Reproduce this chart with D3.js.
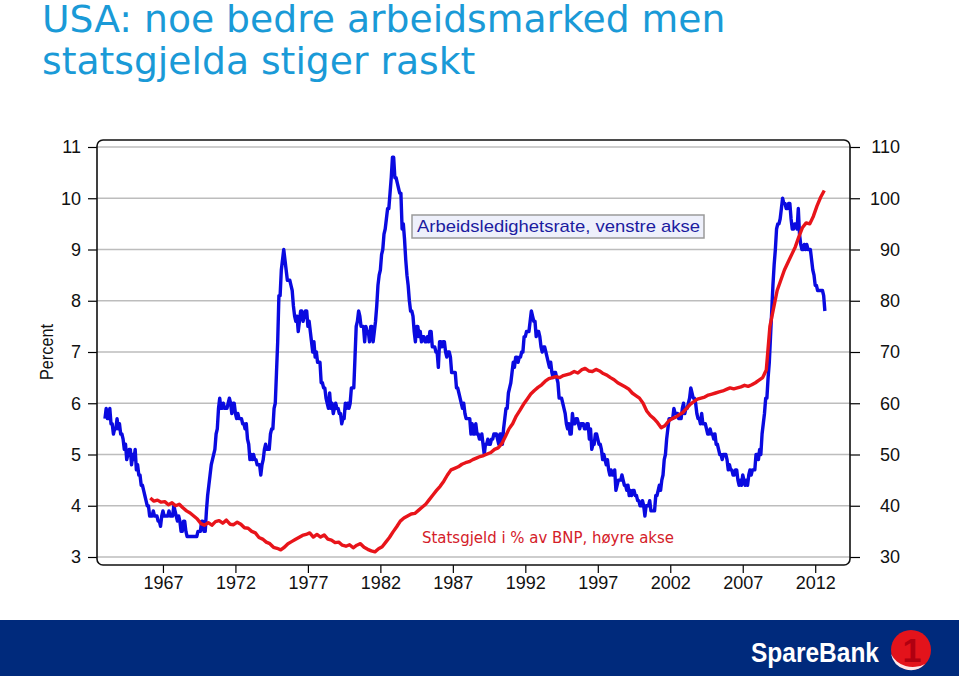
<!DOCTYPE html>
<html>
<head>
<meta charset="utf-8">
<script src="https://cdn.jsdelivr.net/npm/d3@7"></script>
<style>
  html, body { margin: 0; padding: 0; background: #fff; }
  svg { display: block; }
</style>
</head>
<body>
<svg id="chart" width="959" height="676"></svg>
<script>
// ---------------- DATA ----------------
const titleLines = ["USA: noe bedre arbeidsmarked men", "statsgjelda stiger raskt"];
const unemploymentLabel = "Arbeidsledighetsrate, venstre akse";
const debtLabel = "Statsgjeld i % av BNP, høyre akse";
const leftAxisTitle = "Percent";

// Unemployment rate, monthly, from Jan 1963 (left axis, %)
const unemploymentStartYear = 1963;
const unemployment = [
  5.7,5.9,5.7,5.7,5.9,5.6,5.6,5.4,5.5,5.5,5.7,5.5,
  5.6,5.4,5.4,5.3,5.1,5.2,4.9,5.0,5.1,5.1,4.8,5.0,
  4.9,5.1,4.7,4.8,4.6,4.6,4.4,4.4,4.3,4.2,4.1,4.0,
  4.0,3.8,3.8,3.8,3.9,3.8,3.8,3.8,3.7,3.7,3.6,3.8,
  3.9,3.8,3.8,3.8,3.8,3.9,3.8,3.8,3.8,4.0,3.9,3.8,
  3.7,3.8,3.7,3.5,3.5,3.7,3.7,3.5,3.4,3.4,3.4,3.4,
  3.4,3.4,3.4,3.4,3.4,3.5,3.5,3.5,3.7,3.7,3.5,3.5,
  3.9,4.2,4.4,4.6,4.8,4.9,5.0,5.1,5.4,5.5,5.9,6.1,
  5.9,5.9,6.0,5.9,5.9,5.9,6.0,6.1,6.0,5.8,6.0,6.0,
  5.8,5.7,5.8,5.7,5.7,5.7,5.6,5.6,5.5,5.6,5.3,5.2,
  4.9,5.0,4.9,5.0,4.9,4.9,4.8,4.8,4.8,4.6,4.8,4.9,
  5.1,5.2,5.1,5.1,5.1,5.4,5.5,5.5,5.9,6.0,6.6,7.2,
  8.1,8.1,8.6,8.8,9.0,8.8,8.6,8.4,8.4,8.4,8.3,8.2,
  7.9,7.7,7.6,7.7,7.4,7.6,7.8,7.8,7.6,7.7,7.8,7.8,
  7.5,7.6,7.4,7.2,7.0,7.2,6.9,7.0,6.8,6.8,6.8,6.4,
  6.4,6.3,6.3,6.1,6.0,5.9,6.2,5.9,6.0,5.8,5.9,6.0,
  5.9,5.9,5.8,5.8,5.6,5.7,5.7,6.0,5.9,6.0,5.9,6.0,
  6.3,6.3,6.3,6.9,7.5,7.6,7.8,7.7,7.5,7.5,7.5,7.2,
  7.5,7.4,7.4,7.2,7.5,7.5,7.2,7.4,7.6,7.9,8.3,8.5,
  8.6,8.9,9.0,9.3,9.4,9.6,9.8,9.8,10.1,10.4,10.8,10.8,
  10.4,10.4,10.3,10.2,10.1,10.1,9.4,9.5,9.2,8.8,8.5,8.3,
  8.0,7.8,7.8,7.7,7.4,7.2,7.5,7.5,7.3,7.4,7.2,7.3,
  7.3,7.2,7.2,7.3,7.2,7.4,7.4,7.1,7.1,7.1,7.0,7.0,
  6.7,7.2,7.2,7.1,7.2,7.2,7.0,6.9,7.0,7.0,6.9,6.6,
  6.6,6.6,6.6,6.3,6.3,6.2,6.1,6.0,5.9,6.0,5.8,5.7,
  5.7,5.7,5.7,5.4,5.6,5.4,5.4,5.6,5.4,5.4,5.3,5.3,
  5.4,5.2,5.0,5.2,5.2,5.3,5.2,5.2,5.3,5.3,5.4,5.4,
  5.4,5.3,5.2,5.4,5.4,5.2,5.5,5.7,5.9,5.9,6.2,6.3,
  6.4,6.6,6.8,6.7,6.9,6.9,6.8,6.9,6.9,7.0,7.0,7.3,
  7.3,7.4,7.4,7.4,7.6,7.8,7.7,7.6,7.6,7.3,7.4,7.4,
  7.3,7.1,7.0,7.1,7.1,7.0,6.9,6.8,6.7,6.8,6.6,6.5,
  6.6,6.6,6.5,6.4,6.1,6.1,6.1,6.0,5.9,5.8,5.6,5.5,
  5.6,5.4,5.4,5.8,5.6,5.6,5.7,5.7,5.6,5.5,5.6,5.6,
  5.6,5.5,5.5,5.6,5.6,5.3,5.5,5.1,5.2,5.2,5.4,5.4,
  5.3,5.2,5.2,5.1,4.9,5.0,4.9,4.8,4.9,4.7,4.6,4.7,
  4.6,4.6,4.7,4.3,4.4,4.5,4.5,4.5,4.6,4.5,4.4,4.4,
  4.3,4.4,4.2,4.3,4.2,4.3,4.3,4.2,4.2,4.1,4.1,4.0,
  4.0,4.1,4.0,3.8,4.0,4.0,4.0,4.1,3.9,3.9,3.9,3.9,
  4.2,4.2,4.3,4.4,4.3,4.5,4.6,4.9,5.0,5.3,5.5,5.7,
  5.7,5.7,5.7,5.9,5.8,5.8,5.8,5.7,5.7,5.7,5.9,6.0,
  5.8,5.9,5.9,6.0,6.1,6.3,6.2,6.1,6.1,6.0,5.8,5.7,
  5.7,5.6,5.8,5.6,5.6,5.6,5.5,5.4,5.4,5.5,5.4,5.4,
  5.3,5.4,5.2,5.2,5.1,5.0,5.0,4.9,5.0,5.0,5.0,4.9,
  4.7,4.8,4.7,4.7,4.6,4.6,4.7,4.7,4.5,4.4,4.5,4.4,
  4.6,4.5,4.4,4.5,4.4,4.6,4.7,4.6,4.7,4.7,4.7,5.0,
  5.0,4.9,5.1,5.0,5.4,5.6,5.8,6.1,6.1,6.5,6.8,7.3,
  7.8,8.3,8.7,9.0,9.4,9.5,9.5,9.6,9.8,10.0,9.9,9.9,
  9.8,9.8,9.9,9.9,9.6,9.4,9.4,9.5,9.5,9.4,9.8,9.3,
  9.1,9.0,9.0,9.1,9.0,9.1,9.0,9.0,9.0,8.8,8.6,8.5,
  8.3,8.3,8.2,8.2,8.2,8.2,8.2,8.1,7.8
];

// Federal debt in % of GDP, quarterly, from Q1 1966 (right axis)
const debtStartYear = 1966;
const debt = [
  41.5,40.9,41.1,40.7,
  40.8,40.2,40.6,40.0,
  40.3,39.6,39.0,38.6,
  38.0,37.4,36.5,36.2,
  36.7,36.2,36.9,37.1,
  36.6,37.2,36.4,36.3,
  36.8,36.4,35.7,35.6,
  35.0,34.7,33.8,33.5,
  32.9,32.6,31.9,31.7,
  31.4,31.9,32.6,33.0,
  33.4,33.8,34.2,34.4,
  34.7,33.9,34.4,33.9,
  34.3,33.5,33.3,32.8,
  32.9,32.3,32.1,32.4,
  31.8,32.3,32.6,31.9,
  31.5,31.2,31.0,31.6,
  32.0,32.9,33.8,34.9,
  35.9,37.0,37.6,38.0,
  38.4,38.5,39.1,39.7,
  40.3,41.2,42.1,43.0,
  43.8,44.8,46.0,47.0,
  47.3,47.6,48.1,48.4,
  48.6,49.0,49.3,49.6,
  49.8,50.1,50.4,51.0,
  51.3,52.1,53.5,55.0,
  56.0,57.5,58.6,59.8,
  60.8,61.8,62.5,63.1,
  63.6,64.3,64.8,65.0,
  65.2,65.0,65.4,65.6,
  65.8,66.2,65.9,66.5,
  66.8,66.3,66.2,66.6,
  66.3,65.8,65.5,65.0,
  64.6,64.0,63.6,63.2,
  62.8,62.0,61.5,61.0,
  60.0,58.5,57.6,57.0,
  56.2,55.2,55.6,56.5,
  57.0,57.3,57.8,58.2,
  59.0,59.8,60.3,60.8,
  61.0,61.2,61.6,61.8,
  62.0,62.2,62.4,62.7,
  63.0,62.8,63.0,63.2,
  63.5,63.3,63.6,64.0,
  64.5,65.0,66.5,75.0,
  78.5,82.0,84.0,86.0,
  87.5,89.0,90.5,92.5,
  94.3,95.2,95.0,96.5,
  98.5,100.2,101.5
];

const yearTicks = [1967,1972,1977,1982,1987,1992,1997,2002,2007,2012];
const leftTicks = [3,4,5,6,7,8,9,10,11];
const rightTicks = [30,40,50,60,70,80,90,100,110];

// ---------------- LAYOUT ----------------
const svg = d3.select("#chart");
const W = 959, H = 676;
const plot = { left: 97, right: 850, top: 140, bottom: 565 };

const x = d3.scaleLinear().domain([1962.45, 2014.4]).range([plot.left, plot.right]);
const yL = d3.scaleLinear().domain([3, 11]).range([557, 147]);
const yR = d3.scaleLinear().domain([30, 110]).range([557, 147]);

const tickFont = "'Liberation Sans', Arial, sans-serif";
const tickSize = 18;

// Title
svg.append("g").selectAll("text").data(titleLines).join("text")
  .attr("x", 42).attr("y", (d, i) => 32 + i * 42)
  .attr("font-family", "'DejaVu Sans', Verdana, sans-serif")
  .attr("font-size", 37.7)
  .attr("fill", "#1a9ad7")
  .text(d => d);

// Gridlines
svg.append("g").selectAll("line").data(leftTicks).join("line")
  .attr("x1", plot.left).attr("x2", plot.right)
  .attr("y1", d => yL(d)).attr("y2", d => yL(d))
  .attr("stroke", "#bdbdbd").attr("stroke-width", 1.5);

// Left axis
const gL = svg.append("g").attr("transform", `translate(${plot.left},0)`)
  .call(d3.axisLeft(yL).tickValues(leftTicks).tickSize(9).tickPadding(7).tickFormat(d3.format("d")));
gL.select(".domain").remove();
gL.selectAll("line").attr("stroke", "#000").attr("stroke-width", 1.2);
gL.selectAll("text").attr("font-family", tickFont).attr("font-size", tickSize).attr("fill", "#111");

// Right axis
const gR = svg.append("g").attr("transform", `translate(${plot.right},0)`)
  .call(d3.axisRight(yR).tickValues(rightTicks).tickSize(10).tickFormat(d3.format("d")));
gR.select(".domain").remove();
gR.selectAll("line").attr("stroke", "#000").attr("stroke-width", 1.2);
gR.selectAll("text").attr("font-family", tickFont).attr("font-size", tickSize).attr("fill", "#111")
  .attr("text-anchor", "end").attr("x", 50);

// Bottom axis
const gB = svg.append("g").attr("transform", `translate(0,${plot.bottom})`)
  .call(d3.axisBottom(x).tickValues(yearTicks).tickSize(8).tickPadding(3).tickFormat(d3.format("d")));
gB.select(".domain").remove();
gB.selectAll("line").attr("stroke", "#000").attr("stroke-width", 1.2);
gB.selectAll("text").attr("font-family", tickFont).attr("font-size", tickSize).attr("fill", "#111");

// Left axis title
svg.append("text")
  .attr("transform", "translate(53,352) rotate(-90)")
  .attr("text-anchor", "middle")
  .attr("font-family", tickFont).attr("font-size", 18).attr("fill", "#111")
  .attr("textLength", 56).attr("lengthAdjust", "spacingAndGlyphs")
  .text(leftAxisTitle);

// Frame
svg.append("rect")
  .attr("x", plot.left).attr("y", plot.top)
  .attr("width", plot.right - plot.left).attr("height", plot.bottom - plot.top)
  .attr("rx", 6).attr("ry", 6)
  .attr("fill", "none").attr("stroke", "#111").attr("stroke-width", 1.6);

// Series lines
const unempData = unemployment.map((v, i) => ({ t: unemploymentStartYear + i / 12, v }));
const debtData = debt.map((v, i) => ({ t: debtStartYear + i / 4 + 0.125, v }));

svg.append("path").datum(unempData)
  .attr("fill", "none").attr("stroke", "#0a0ae0").attr("stroke-width", 3.4)
  .attr("stroke-linejoin", "round")
  .attr("d", d3.line().x(d => x(d.t)).y(d => yL(d.v)));

svg.append("path").datum(debtData)
  .attr("fill", "none").attr("stroke", "#e8141a").attr("stroke-width", 3.4)
  .attr("stroke-linejoin", "round")
  .attr("d", d3.line().x(d => x(d.t)).y(d => yR(d.v)));

// Legend box for unemployment
const lg = svg.append("g");
lg.append("rect").attr("x", 412).attr("y", 215).attr("width", 292).attr("height", 23)
  .attr("fill", "#eef0fb").attr("stroke", "#9a9a9a").attr("stroke-width", 1.5);
lg.append("text").attr("x", 417).attr("y", 232)
  .attr("font-family", tickFont).attr("font-size", 17)
  .attr("textLength", 283).attr("lengthAdjust", "spacingAndGlyphs")
  .attr("fill", "#1c1ca0")
  .text(unemploymentLabel);

// Debt label
svg.append("text").attr("x", 422).attr("y", 543)
  .attr("font-family", "'DejaVu Sans', Verdana, sans-serif").attr("font-size", 15)
  .attr("textLength", 252).attr("lengthAdjust", "spacingAndGlyphs")
  .attr("fill", "#d42028")
  .text(debtLabel);

// Footer bar
svg.append("rect").attr("x", 0).attr("y", 620).attr("width", W).attr("height", H - 620)
  .attr("fill", "#002a7c");
svg.append("text").attr("x", 751).attr("y", 662)
  .attr("font-family", tickFont).attr("font-weight", "bold").attr("font-size", 28)
  .attr("textLength", 128).attr("lengthAdjust", "spacingAndGlyphs")
  .attr("fill", "#fff").text("SpareBank");
// logo mark
const logo = svg.append("g").attr("transform", "translate(911,650)");
logo.append("circle").attr("r", 20).attr("fill", "#e3131b");
logo.append("path").attr("d", "M-20,4 A20,20 0 0 0 14,14 A24,22 0 0 1 -20,4 Z").attr("fill", "#ffffff").attr("opacity", 0.9);
logo.append("text").attr("x", 1).attr("y", 12).attr("text-anchor", "middle")
  .attr("font-family", tickFont).attr("font-weight", "bold").attr("font-size", 34)
  .attr("fill", "#b00010").text("1");
</script>
</body>
</html>
